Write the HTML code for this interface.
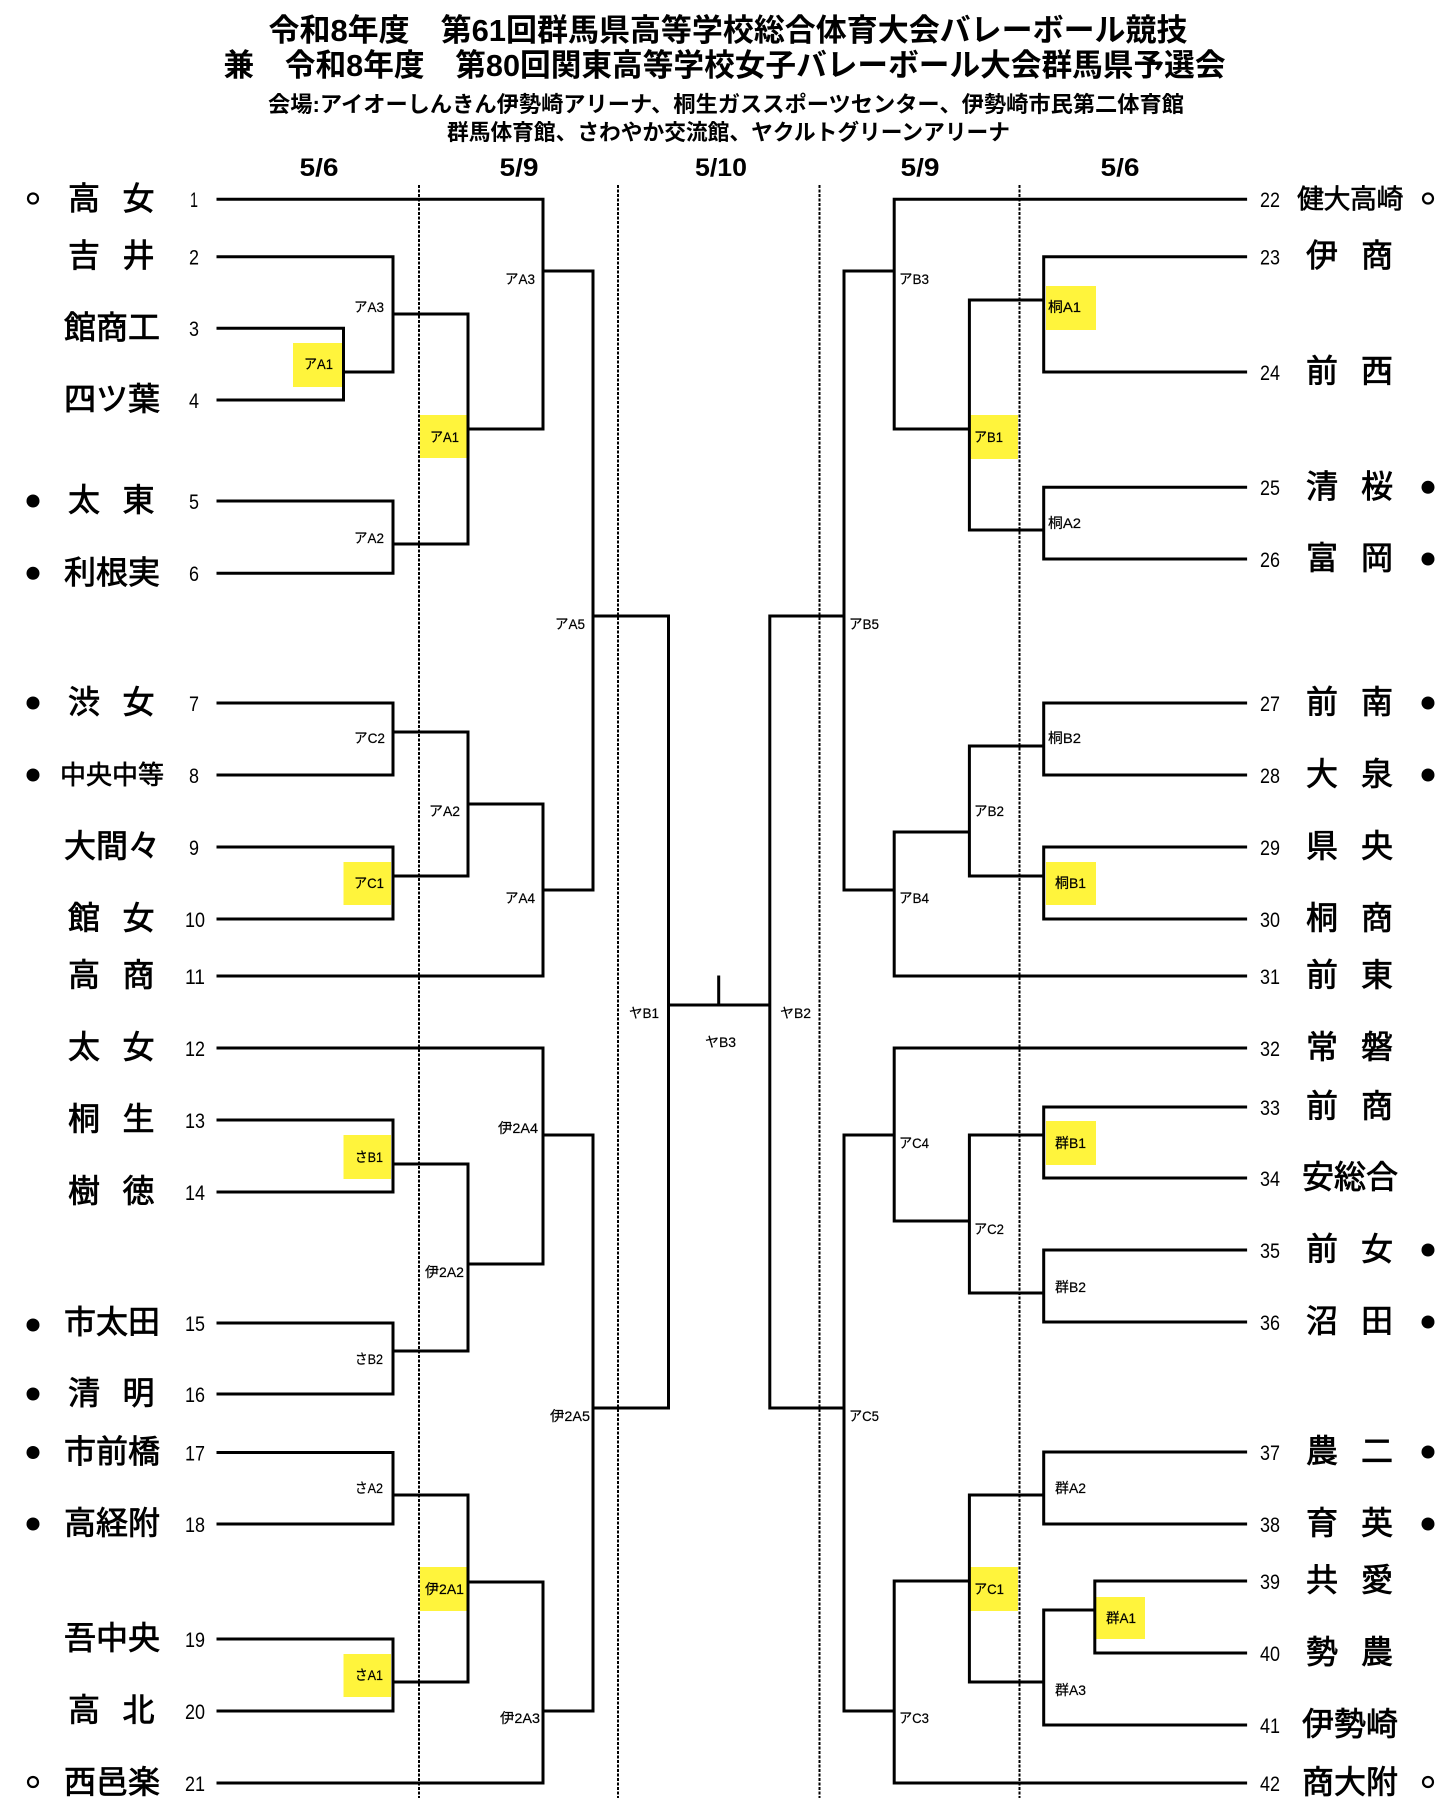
<!DOCTYPE html>
<html lang="ja">
<head>
<meta charset="utf-8">
<style>
html,body{margin:0;padding:0;background:#fff;}
body{width:1456px;height:1812px;overflow:hidden;}
svg{display:block;}
.ttl{font-family:"Liberation Sans","Noto Sans CJK JP",sans-serif;font-weight:bold;fill:#000;}
.hd{font-family:"Liberation Sans",sans-serif;font-weight:bold;font-size:25px;fill:#000;}
.nm{font-family:"Liberation Sans","Noto Sans CJK JP",sans-serif;font-size:32px;fill:#000;stroke:#000;stroke-width:0.8;text-anchor:middle;}
.nm4{font-family:"Liberation Sans","Noto Sans CJK JP",sans-serif;font-size:26px;fill:#000;stroke:#000;stroke-width:0.6;text-anchor:middle;}
.no{font-family:"Liberation Sans",sans-serif;font-size:21px;fill:#000;}
.lb{font-family:"Liberation Sans","Noto Sans CJK JP",sans-serif;font-size:14px;fill:#000;stroke:#000;stroke-width:0.2;}
</style>
</head>
<body>
<svg width="1456" height="1812" viewBox="0 0 1456 1812" xmlns="http://www.w3.org/2000/svg">
<rect x="0" y="0" width="1456" height="1812" fill="#fff"/>

<!-- title -->
<text class="ttl" x="268.5" y="41" font-size="31" textLength="919" lengthAdjust="spacingAndGlyphs">令和8年度　第61回群馬県高等学校総合体育大会バレーボール競技</text>
<text class="ttl" x="223.5" y="76" font-size="31" textLength="1002" lengthAdjust="spacingAndGlyphs">兼　令和8年度　第80回関東高等学校女子バレーボール大会群馬県予選会</text>
<text class="ttl" x="268" y="112" font-size="22" textLength="916" lengthAdjust="spacingAndGlyphs">会場:アイオーしんきん伊勢崎アリーナ、桐生ガススポーツセンター、伊勢崎市民第二体育館</text>
<text class="ttl" x="447" y="140" font-size="22" textLength="563" lengthAdjust="spacingAndGlyphs">群馬体育館、さわやか交流館、ヤクルトグリーンアリーナ</text>

<!-- headers -->
<text class="hd" x="299.5" y="176" textLength="39" lengthAdjust="spacingAndGlyphs">5/6</text>
<text class="hd" x="499.5" y="176" textLength="39" lengthAdjust="spacingAndGlyphs">5/9</text>
<text class="hd" x="695" y="176" textLength="52" lengthAdjust="spacingAndGlyphs">5/10</text>
<text class="hd" x="900.5" y="176" textLength="39" lengthAdjust="spacingAndGlyphs">5/9</text>
<text class="hd" x="1100.5" y="176" textLength="39" lengthAdjust="spacingAndGlyphs">5/6</text>

<!-- yellow boxes -->
<g fill="#FFF43C">
<rect x="293" y="343" width="50" height="44"/>
<rect x="420" y="415" width="47" height="43"/>
<rect x="343.5" y="862" width="47.5" height="43"/>
<rect x="343.5" y="1135" width="47.5" height="44"/>
<rect x="420" y="1567" width="47" height="44"/>
<rect x="343.5" y="1654" width="47.5" height="43"/>
<rect x="1046" y="286" width="50" height="44"/>
<rect x="970" y="415" width="48" height="44"/>
<rect x="1046" y="862" width="50" height="43"/>
<rect x="1046" y="1121" width="50" height="44"/>
<rect x="970" y="1567" width="48" height="44"/>
<rect x="1096" y="1597" width="49" height="42"/>
</g>

<!-- dashed day separators -->
<g stroke="#000" stroke-width="2" stroke-dasharray="3 1.5" fill="none">
<line x1="419" y1="185" x2="419" y2="1798"/>
<line x1="618" y1="185" x2="618" y2="1798"/>
<line x1="819.5" y1="185" x2="819.5" y2="1798"/>
<line x1="1019.5" y1="185" x2="1019.5" y2="1798"/>
</g>

<!-- bracket lines -->
<path fill="none" stroke="#000" stroke-width="3" stroke-linejoin="miter" stroke-linecap="square" d="
M218,199.3H543V429
M218,256.7H393V372
M218,328.3H343.5V400H218
M343.5,372H393
M393,314H468V544
M218,501H393V573.3H218
M393,544H468
M468,429H543
M543,271H593V890
M218,703H393V775H218
M393,732H468V876
M218,847H393V919H218
M393,876H468
M468,804H543
M218,976H543V804
M543,890H593
M593,616H668.5V1408
M218,1048H543V1264
M218,1120H393V1192H218
M393,1164H468V1351
M218,1323H393V1394H218
M393,1351H468
M468,1264H543
M543,1135H593V1711
M218,1452.5H393V1524H218
M393,1495H468V1682
M218,1639H393V1711H218
M393,1682H468
M468,1582H543
M218,1783H543V1582
M543,1711H593
M593,1408H668.5
M668.5,1005H769.8
M718.7,977V1005
M1245.6,199.3H894.2V429
M1245.6,256.7H1043.7V372H1245.6
M1043.7,300H969.4V530
M1245.6,487.3H1043.7V559H1245.6
M1043.7,530H969.4
M969.4,429H894.2
M894.2,271H844V890
M1245.6,703H1043.7V775H1245.6
M1043.7,746H969.4V876
M1245.6,847H1043.7V919H1245.6
M1043.7,876H969.4
M969.4,832H894.2
M1245.6,976H894.2V832
M894.2,890H844
M844,616H769.8V1408
M1245.6,1048H894.2V1221
M1245.6,1107H1043.7V1178H1245.6
M1043.7,1135H969.4V1293
M1245.6,1250H1043.7V1322H1245.6
M1043.7,1293H969.4
M969.4,1221H894.2
M894.2,1135H844V1711
M1245.6,1452H1043.7V1524H1245.6
M1043.7,1495H969.4V1682
M1245.6,1581H1094.8V1653H1245.6
M1094.8,1610H1043.7
M1245.6,1725H1043.7V1610
M1043.7,1682H969.4
M969.4,1581H894.2
M1245.6,1783H894.2V1581
M894.2,1711H844
M844,1408H769.8
"/>

<!-- match labels -->
<g class="lb">
<text x="354" y="312" textLength="30" lengthAdjust="spacingAndGlyphs">アA3</text>
<text x="304" y="369" textLength="29" lengthAdjust="spacingAndGlyphs">アA1</text>
<text x="505" y="284" textLength="30" lengthAdjust="spacingAndGlyphs">アA3</text>
<text x="430" y="442" textLength="29" lengthAdjust="spacingAndGlyphs">アA1</text>
<text x="354" y="543" textLength="30" lengthAdjust="spacingAndGlyphs">アA2</text>
<text x="555" y="629" textLength="30" lengthAdjust="spacingAndGlyphs">アA5</text>
<text x="354" y="743" textLength="31" lengthAdjust="spacingAndGlyphs">アC2</text>
<text x="429" y="816" textLength="31" lengthAdjust="spacingAndGlyphs">アA2</text>
<text x="354" y="888" textLength="30" lengthAdjust="spacingAndGlyphs">アC1</text>
<text x="505" y="903" textLength="30" lengthAdjust="spacingAndGlyphs">アA4</text>
<text x="629" y="1018" textLength="30" lengthAdjust="spacingAndGlyphs">ヤB1</text>
<text x="705" y="1047" textLength="31" lengthAdjust="spacingAndGlyphs">ヤB3</text>
<text x="355" y="1162" textLength="28" lengthAdjust="spacingAndGlyphs">さB1</text>
<text x="498" y="1133" textLength="40" lengthAdjust="spacingAndGlyphs">伊2A4</text>
<text x="425" y="1277" textLength="39" lengthAdjust="spacingAndGlyphs">伊2A2</text>
<text x="355" y="1364" textLength="28" lengthAdjust="spacingAndGlyphs">さB2</text>
<text x="550" y="1421" textLength="40" lengthAdjust="spacingAndGlyphs">伊2A5</text>
<text x="355" y="1493" textLength="28" lengthAdjust="spacingAndGlyphs">さA2</text>
<text x="425" y="1594" textLength="39" lengthAdjust="spacingAndGlyphs">伊2A1</text>
<text x="355" y="1680" textLength="28" lengthAdjust="spacingAndGlyphs">さA1</text>
<text x="500" y="1723" textLength="40" lengthAdjust="spacingAndGlyphs">伊2A3</text>

<text x="899" y="284" textLength="30" lengthAdjust="spacingAndGlyphs">アB3</text>
<text x="1048" y="312" textLength="33" lengthAdjust="spacingAndGlyphs">桐A1</text>
<text x="974" y="442" textLength="29" lengthAdjust="spacingAndGlyphs">アB1</text>
<text x="1048" y="528" textLength="33" lengthAdjust="spacingAndGlyphs">桐A2</text>
<text x="849" y="629" textLength="30" lengthAdjust="spacingAndGlyphs">アB5</text>
<text x="1048" y="743" textLength="33" lengthAdjust="spacingAndGlyphs">桐B2</text>
<text x="974" y="816" textLength="30" lengthAdjust="spacingAndGlyphs">アB2</text>
<text x="1055" y="888" textLength="31" lengthAdjust="spacingAndGlyphs">桐B1</text>
<text x="899" y="903" textLength="30" lengthAdjust="spacingAndGlyphs">アB4</text>
<text x="780" y="1018" textLength="31" lengthAdjust="spacingAndGlyphs">ヤB2</text>
<text x="899" y="1148" textLength="30" lengthAdjust="spacingAndGlyphs">アC4</text>
<text x="1055" y="1148" textLength="31" lengthAdjust="spacingAndGlyphs">群B1</text>
<text x="974" y="1234" textLength="30" lengthAdjust="spacingAndGlyphs">アC2</text>
<text x="1055" y="1292" textLength="31" lengthAdjust="spacingAndGlyphs">群B2</text>
<text x="849" y="1421" textLength="30" lengthAdjust="spacingAndGlyphs">アC5</text>
<text x="1055" y="1493" textLength="31" lengthAdjust="spacingAndGlyphs">群A2</text>
<text x="974" y="1594" textLength="30" lengthAdjust="spacingAndGlyphs">アC1</text>
<text x="1106" y="1623" textLength="30" lengthAdjust="spacingAndGlyphs">群A1</text>
<text x="1055" y="1695" textLength="31" lengthAdjust="spacingAndGlyphs">群A3</text>
<text x="899" y="1723" textLength="30" lengthAdjust="spacingAndGlyphs">アC3</text>
</g>

<!-- left team names -->
<g class="nm">
<text x="84 138.5" y="209.3">高女</text>
<text x="84 138.5" y="266.7">吉井</text>
<text x="80 112 144" y="338.3">館商工</text>
<text x="80 112 144" y="410">四ツ葉</text>
<text x="84 138.5" y="511">太東</text>
<text x="80 112 144" y="583.3">利根実</text>
<text x="84 138.5" y="713">渋女</text>
<text x="80 112 144" y="857">大間々</text>
<text x="84 138.5" y="929">館女</text>
<text x="84 138.5" y="986">高商</text>
<text x="84 138.5" y="1058">太女</text>
<text x="84 138.5" y="1130">桐生</text>
<text x="84 138.5" y="1202">樹徳</text>
<text x="80 112 144" y="1333">市太田</text>
<text x="84 138.5" y="1404">清明</text>
<text x="80 112 144" y="1462.5">市前橋</text>
<text x="80 112 144" y="1534">高経附</text>
<text x="80 112 144" y="1649">吾中央</text>
<text x="84 138.5" y="1721">高北</text>
<text x="80 112 144" y="1793">西邑楽</text>
</g>
<g class="nm4">
<text x="73 99 125 151" y="784">中央中等</text>
</g>

<!-- right team names -->
<g class="nm">
<text x="1322 1377" y="266.7">伊商</text>
<text x="1322 1377" y="382">前西</text>
<text x="1322 1377" y="497.3">清桜</text>
<text x="1322 1377" y="569">富岡</text>
<text x="1322 1377" y="713">前南</text>
<text x="1322 1377" y="785">大泉</text>
<text x="1322 1377" y="857">県央</text>
<text x="1322 1377" y="929">桐商</text>
<text x="1322 1377" y="986">前東</text>
<text x="1322 1377" y="1058">常磐</text>
<text x="1322 1377" y="1117">前商</text>
<text x="1318 1350 1382" y="1188">安総合</text>
<text x="1322 1377" y="1260">前女</text>
<text x="1322 1377" y="1332">沼田</text>
<text x="1322 1377" y="1462">農二</text>
<text x="1322 1377" y="1534">育英</text>
<text x="1322 1377" y="1591">共愛</text>
<text x="1322 1377" y="1663">勢農</text>
<text x="1318 1350 1382" y="1735">伊勢崎</text>
<text x="1318 1350 1382" y="1793">商大附</text>
</g>
<g class="nm4">
<text x="1310.5 1337 1363.5 1390" y="208.5" font-size="27">健大高崎</text>
</g>

<!-- numbers left -->
<g class="no">
<text x="190" y="207" textLength="8" lengthAdjust="spacingAndGlyphs">1</text>
<text x="189" y="264.5" textLength="10" lengthAdjust="spacingAndGlyphs">2</text>
<text x="189" y="336" textLength="10" lengthAdjust="spacingAndGlyphs">3</text>
<text x="189" y="408" textLength="10" lengthAdjust="spacingAndGlyphs">4</text>
<text x="189" y="509" textLength="10" lengthAdjust="spacingAndGlyphs">5</text>
<text x="189" y="581" textLength="10" lengthAdjust="spacingAndGlyphs">6</text>
<text x="189" y="711" textLength="10" lengthAdjust="spacingAndGlyphs">7</text>
<text x="189" y="783" textLength="10" lengthAdjust="spacingAndGlyphs">8</text>
<text x="189" y="855" textLength="10" lengthAdjust="spacingAndGlyphs">9</text>
<text x="185" y="927" textLength="20" lengthAdjust="spacingAndGlyphs">10</text>
<text x="185" y="984" textLength="20" lengthAdjust="spacingAndGlyphs">11</text>
<text x="185" y="1056" textLength="20" lengthAdjust="spacingAndGlyphs">12</text>
<text x="185" y="1128" textLength="20" lengthAdjust="spacingAndGlyphs">13</text>
<text x="185" y="1200" textLength="20" lengthAdjust="spacingAndGlyphs">14</text>
<text x="185" y="1331" textLength="20" lengthAdjust="spacingAndGlyphs">15</text>
<text x="185" y="1402" textLength="20" lengthAdjust="spacingAndGlyphs">16</text>
<text x="185" y="1460.5" textLength="20" lengthAdjust="spacingAndGlyphs">17</text>
<text x="185" y="1532" textLength="20" lengthAdjust="spacingAndGlyphs">18</text>
<text x="185" y="1647" textLength="20" lengthAdjust="spacingAndGlyphs">19</text>
<text x="185" y="1719" textLength="20" lengthAdjust="spacingAndGlyphs">20</text>
<text x="185" y="1791" textLength="20" lengthAdjust="spacingAndGlyphs">21</text>
</g>
<!-- numbers right -->
<g class="no">
<text x="1260" y="207" textLength="20" lengthAdjust="spacingAndGlyphs">22</text>
<text x="1260" y="264.5" textLength="20" lengthAdjust="spacingAndGlyphs">23</text>
<text x="1260" y="380" textLength="20" lengthAdjust="spacingAndGlyphs">24</text>
<text x="1260" y="495" textLength="20" lengthAdjust="spacingAndGlyphs">25</text>
<text x="1260" y="567" textLength="20" lengthAdjust="spacingAndGlyphs">26</text>
<text x="1260" y="711" textLength="20" lengthAdjust="spacingAndGlyphs">27</text>
<text x="1260" y="783" textLength="20" lengthAdjust="spacingAndGlyphs">28</text>
<text x="1260" y="855" textLength="20" lengthAdjust="spacingAndGlyphs">29</text>
<text x="1260" y="927" textLength="20" lengthAdjust="spacingAndGlyphs">30</text>
<text x="1260" y="984" textLength="20" lengthAdjust="spacingAndGlyphs">31</text>
<text x="1260" y="1056" textLength="20" lengthAdjust="spacingAndGlyphs">32</text>
<text x="1260" y="1115" textLength="20" lengthAdjust="spacingAndGlyphs">33</text>
<text x="1260" y="1186" textLength="20" lengthAdjust="spacingAndGlyphs">34</text>
<text x="1260" y="1258" textLength="20" lengthAdjust="spacingAndGlyphs">35</text>
<text x="1260" y="1330" textLength="20" lengthAdjust="spacingAndGlyphs">36</text>
<text x="1260" y="1460" textLength="20" lengthAdjust="spacingAndGlyphs">37</text>
<text x="1260" y="1532" textLength="20" lengthAdjust="spacingAndGlyphs">38</text>
<text x="1260" y="1589" textLength="20" lengthAdjust="spacingAndGlyphs">39</text>
<text x="1260" y="1661" textLength="20" lengthAdjust="spacingAndGlyphs">40</text>
<text x="1260" y="1733" textLength="20" lengthAdjust="spacingAndGlyphs">41</text>
<text x="1260" y="1791" textLength="20" lengthAdjust="spacingAndGlyphs">42</text>
</g>

<!-- bullets -->
<g fill="#000">
<circle cx="33" cy="501" r="6.5"/>
<circle cx="33" cy="573.3" r="6.5"/>
<circle cx="33" cy="703" r="6.5"/>
<circle cx="33" cy="775" r="6.5"/>
<circle cx="33" cy="1325" r="6.5"/>
<circle cx="33" cy="1394" r="6.5"/>
<circle cx="33" cy="1452.5" r="6.5"/>
<circle cx="33" cy="1524" r="6.5"/>
<circle cx="1428" cy="487.3" r="6.5"/>
<circle cx="1428" cy="559" r="6.5"/>
<circle cx="1428" cy="703" r="6.5"/>
<circle cx="1428" cy="775" r="6.5"/>
<circle cx="1428" cy="1250" r="6.5"/>
<circle cx="1428" cy="1322" r="6.5"/>
<circle cx="1428" cy="1452" r="6.5"/>
<circle cx="1428" cy="1524" r="6.5"/>
</g>
<g fill="none" stroke="#000" stroke-width="2.2">
<circle cx="33" cy="198.5" r="5"/>
<circle cx="33" cy="1782" r="5"/>
<circle cx="1428" cy="198.5" r="5"/>
<circle cx="1428" cy="1782" r="5"/>
</g>
</svg>
</body>
</html>
